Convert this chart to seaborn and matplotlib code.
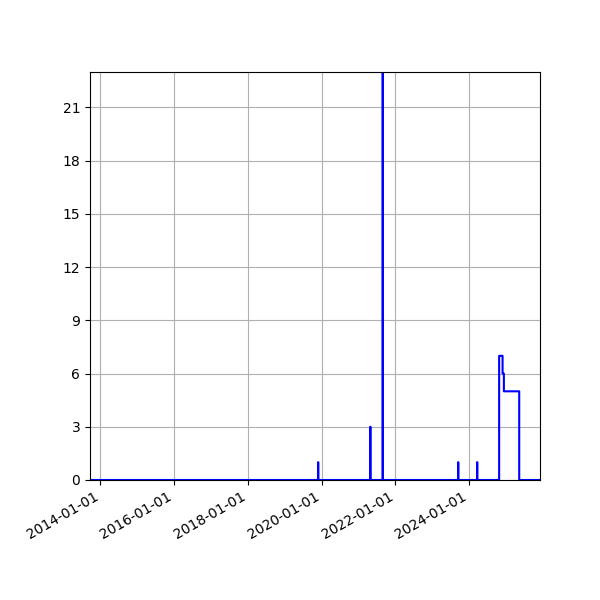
import pandas as pd
import numpy as np
import seaborn as sns
import matplotlib
matplotlib.use('Agg')
import matplotlib.pyplot as plt
import matplotlib.dates as mdates

# runs of non-zero counts
run_start = ['2019-11-27', '2021-04-27', '2021-08-28', '2023-09-15', '2024-03-21',
             '2024-10-26', '2024-11-29', '2024-12-12']
run_end = ['2019-11-30', '2021-04-30', '2021-08-31', '2023-09-18', '2024-03-24',
           '2024-11-29', '2024-12-12', '2025-05-13']
run_value = [1, 3, 23, 1, 1, 7, 6, 5]
first_day = '2013-09-19'
last_day = '2025-12-05'

days = pd.date_range(first_day, last_day, freq='D')
counts = pd.Series(0, index=days)
for s, e, v in zip(run_start, run_end, run_value):
    counts[(counts.index >= s) & (counts.index < e)] = v
de = pd.DataFrame({'date': counts.index, 'count': counts.values})

fig, ax = plt.subplots(figsize=(6, 6), dpi=100)
sns.lineplot(x='date', y='count', data=de, color='blue', estimator=None,
             drawstyle='steps-post', linewidth=1.5, ax=ax)
ax.set_xlim(de.date.min(), de.date.max())
ax.set_ylim(0, max(run_value))
ax.yaxis.set_major_locator(plt.MultipleLocator(3))
ax.xaxis.set_major_locator(mdates.YearLocator(2))
ax.xaxis.set_major_formatter(mdates.DateFormatter('%Y-%m-%d'))
ax.set_xlabel('')
ax.set_ylabel('')
ax.grid(True)
fig.autofmt_xdate()
plt.subplots_adjust(left=0.15, right=0.9, top=0.88, bottom=0.2)
plt.savefig('out.png')
